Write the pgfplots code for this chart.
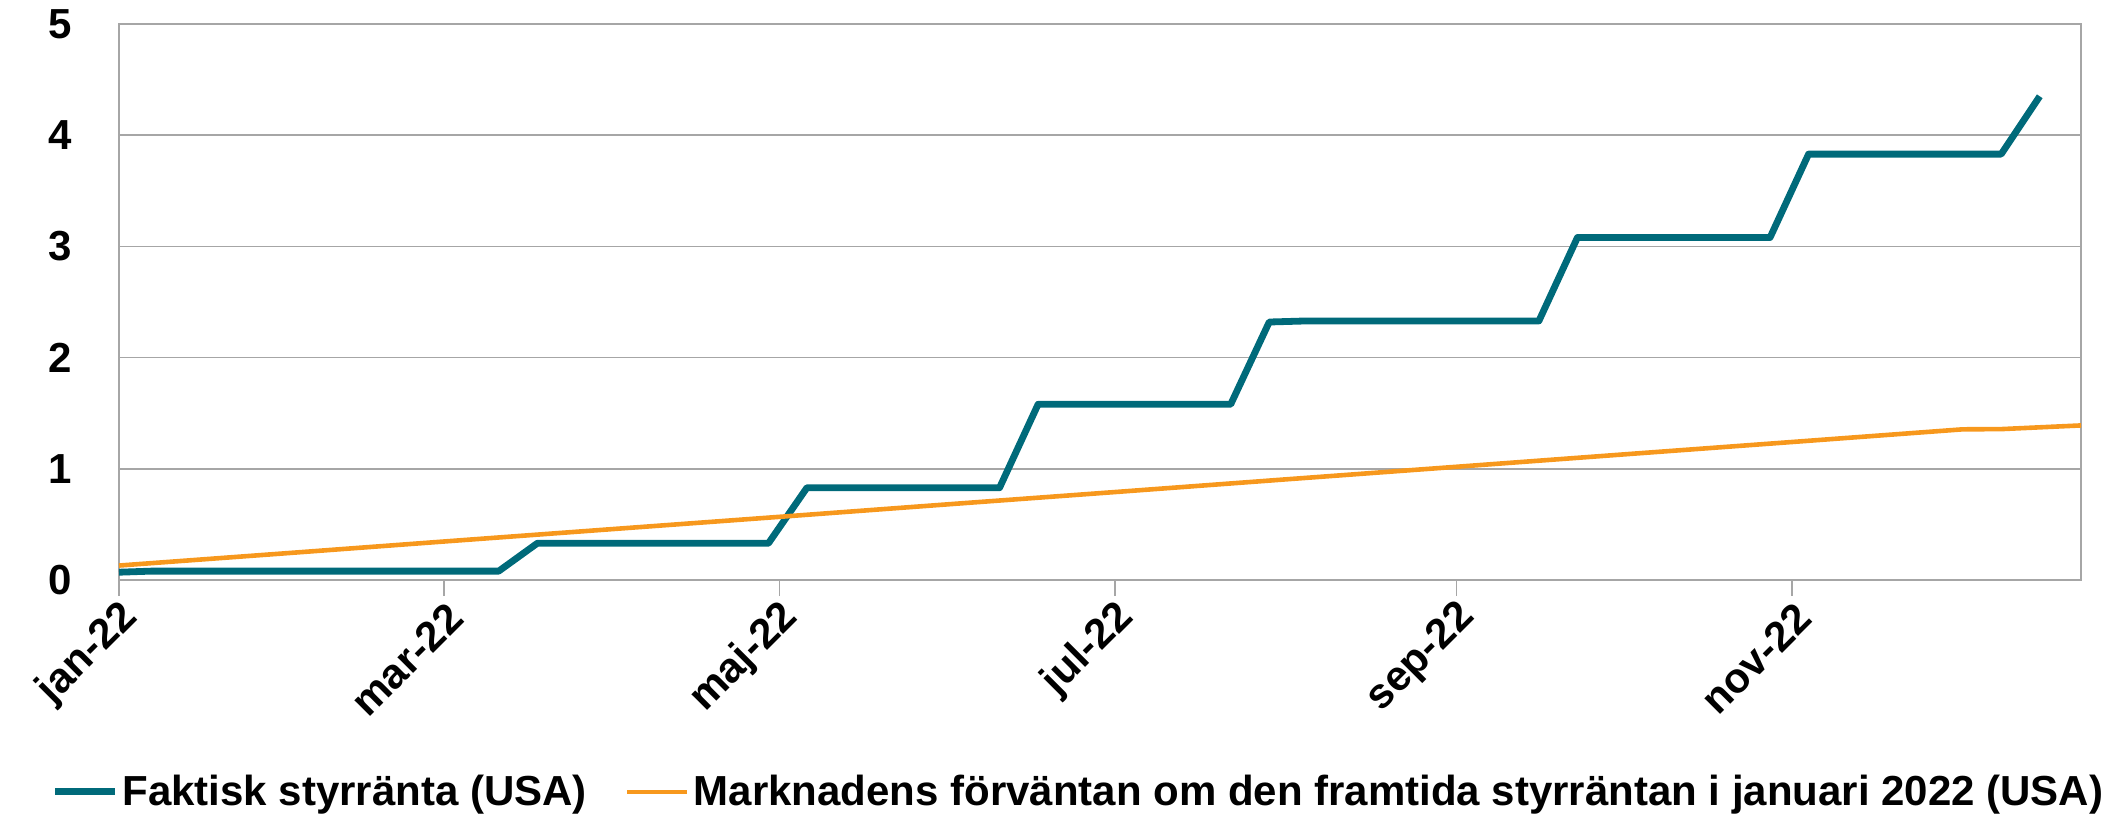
\documentclass[border=0pt]{standalone}
\usepackage{fontspec}
\setmainfont{Liberation Sans}
\usepackage{pgfplots}
\pgfplotsset{compat=1.18}
\definecolor{teal1}{RGB}{0,106,122}
\definecolor{orange1}{RGB}{247,152,29}
\definecolor{grid1}{RGB}{166,166,166}
\begin{document}
\begin{tikzpicture}
\path[use as bounding box] (0,0) rectangle (1061.5pt,409.5pt);
\begin{axis}[
 at={(59.5pt,119.5pt)}, anchor=south west,
 scale only axis, width=981pt, height=278pt,
 xmin=0, xmax=356.5, ymin=0, ymax=5,
 xtick={0,59,120,181,243,304},
 xticklabels={jan-22,mar-22,maj-22,jul-22,sep-22,nov-22},
 ytick={0,1,2,3,4,5},
 ymajorgrids, grid style={grid1, line width=0.85pt},
 axis line style={grid1, line width=0.85pt},
 tick align=outside, xtick pos=bottom, ytick pos=left,
 major tick length=8pt,
 xtick style={grid1, line width=0.85pt},
 ytick style={draw=none},
 tick label style={font=\fontsize{21}{25}\selectfont\bfseries},
 /pgf/number format/assume math mode=true,
 xticklabel style={xshift=8.5pt, yshift=-5pt, rotate=45, anchor=east},
 yticklabel style={xshift=-12pt},
 legend style={at={(0.4896,-0.381)}, anchor=center, draw=none, fill=none,
   font=\fontsize{21}{25}\selectfont\bfseries, legend columns=2,
   /tikz/every even column/.append style={column sep=17pt}},
 legend image code/.code={\draw[#1] (0pt,0pt) -- (30pt,0pt);},
]
\addplot[teal1, line width=3.4pt, line join=round] coordinates {
(0,0.07) (6,0.08) (13,0.08) (69,0.08) (76,0.33) (118,0.33) (125,0.83)
(160,0.83) (167,1.58) (202,1.58) (209,2.32) (216,2.33) (258,2.33)
(265,3.08) (300,3.08) (307,3.83) (342,3.83) (349,4.35)
};
\addlegendentry{Faktisk styrränta (USA)}
\addplot[orange1, line width=2.3pt, line join=round] coordinates {
(0,0.13) (31,0.243) (59,0.346) (90,0.459) (120,0.568) (151,0.682)
(181,0.791) (212,0.905) (243,1.018) (273,1.128) (304,1.241)
(335,1.355) (342,1.357) (356.5,1.39)
};
\addlegendentry{Marknadens förväntan om den framtida styrräntan i januari 2022 (USA)}
\end{axis}
\end{tikzpicture}
\end{document}
